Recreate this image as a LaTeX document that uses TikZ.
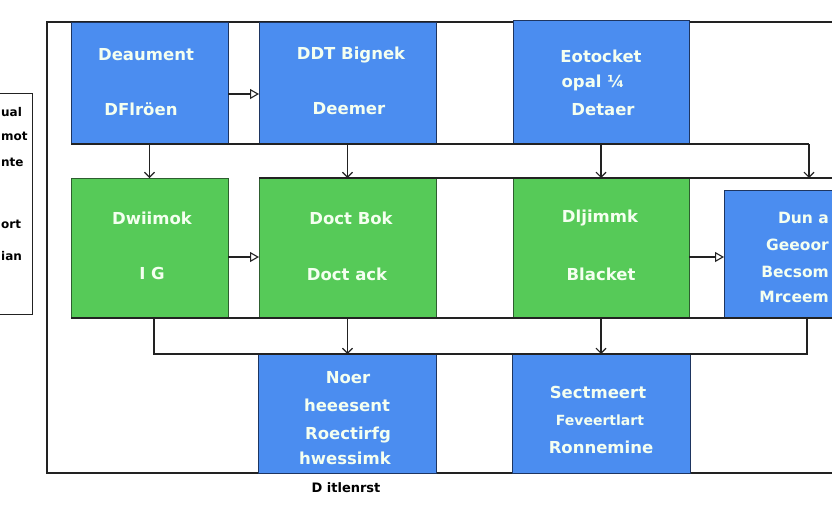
\documentclass[tikz,border=0pt]{standalone}
\usepackage{fontspec}
\setmainfont{DejaVu Sans}
\usetikzlibrary{arrows.meta}
\definecolor{bluebox}{HTML}{4B8DF0}
\definecolor{blueedge}{HTML}{1E3560}
\definecolor{greenbox}{HTML}{56CA58}
\definecolor{greenedge}{HTML}{2E5E30}
\definecolor{txtc}{HTML}{F4FFF0}
\definecolor{linec}{HTML}{222222}
\begin{document}
\begin{tikzpicture}[x=1pt,y=-1pt,
  boxb/.style={draw=blueedge, fill=bluebox, line width=0.9pt, inner sep=0pt, outer sep=0pt},
  boxg/.style={draw=greenedge, fill=greenbox, line width=0.9pt, inner sep=0pt, outer sep=0pt},
  wt/.style={text=txtc, font=\fontsize{16.5}{19}\selectfont\bfseries, inner sep=0pt},
  wtr/.style={text=txtc, font=\fontsize{15.5}{18}\selectfont\bfseries, inner sep=0pt, anchor=east},
  wts/.style={text=txtc, font=\fontsize{14}{16}\selectfont\bfseries, inner sep=0pt},
  lt/.style={text=black, font=\fontsize{12}{14}\selectfont\bfseries, inner sep=0pt, anchor=west},
  ln/.style={draw=linec, line width=1.1pt},
  harr/.style={ln, -{Triangle[open, length=9pt, width=10pt]}},
  varr/.style={ln, -{Straight Barb[length=5pt, width=10pt]}},
]
\useasboundingbox (0,0) rectangle (832,512);
\fill[white] (0,0) rectangle (832,512);

% frame
\coordinate (f1) at (832,22);
\coordinate (f2) at (47,22);
\coordinate (f3) at (47,473);
\coordinate (f4) at (832,473);
\draw[ln] (f1) -- (f2) -- (f3) -- (f4);

% legend box (cut at left edge)
\node[draw=linec, line width=1pt, minimum width=37pt, minimum height=221pt, inner sep=0pt] (L) at (13.5,203.5) {};
\node[lt] (l1) at (1,112) {ual};
\node[lt] (l2) at (1,136) {mot};
\node[lt] (l3) at (1,162) {nte};
\node[lt] (l4) at (1,224) {ort};
\node[lt] (l5) at (1,256) {ian};

% bus coordinates
\coordinate (k1) at (809,144);
\coordinate (k2) at (809,178);
\coordinate (e1) at (832,178);
\coordinate (e2) at (832,318);
\coordinate (m1) at (154,354);
\coordinate (m2) at (807,354);
\coordinate (r1) at (0,94);
\coordinate (r2) at (0,257);

% boxes row 1
\node[boxb, minimum width=157pt, minimum height=122pt] (B1) at (149.5,83) {};
\node[boxb, minimum width=177pt, minimum height=122pt] (B2) at (347.5,83) {};
\node[boxb, minimum width=176pt, minimum height=124pt] (B3) at (601,82) {};
% row 2
\node[boxg, minimum width=157pt, minimum height=140pt] (G1) at (149.5,248) {};
\node[boxg, minimum width=177pt, minimum height=140pt] (G2) at (347.5,248) {};
\node[boxg, minimum width=176pt, minimum height=140pt] (G3) at (601,248) {};
\node[boxb, minimum width=176pt, minimum height=128pt] (B4) at (812,254) {};
% row 3
\node[boxb, minimum width=178pt, minimum height=119pt] (B5) at (347.5,413.5) {};
\node[boxb, minimum width=178pt, minimum height=119pt] (B6) at (601,413.5) {};

% bus lines
\draw[ln] (B1.south west) -- (k1);
\draw[varr] (k1) -- (k2);
\draw[ln] (G2.north west) -- (e1);
\draw[ln] (G1.south west) -- (e2);
\draw[ln] (G1.south -| m1) -- (m1) -- (m2) -- (B4.south -| m2);

% arrows
\draw[harr] (B1.east |- r1) -- (B2.west |- r1);
\draw[harr] (G1.east |- r2) -- (G2.west |- r2);
\draw[harr] (G3.east |- r2) -- (B4.west |- r2);
\draw[varr] (B1.south) -- (G1.north);
\draw[varr] (B2.south) -- (G2.north);
\draw[varr] (B3.south) -- (G3.north);
\draw[varr] (G2.south) -- (B5.north);
\draw[varr] (G3.south) -- (B6.north);

% texts
\node[wt] (t1) at (146,55) {Deaument};
\node[wt] (t2) at (141,109) {DFlröen};
\node[wt] (t3) at (351,55) {DDT Bignek};
\node[wt] (t4) at (349,109) {Deemer};
\node[wt] (t5) at (601,56) {Eotocket};
\node[wt] (t6) at (593,83) {opal ¼};
\node[wt] (t7) at (603,110) {Detaer};
\node[wt] (t8) at (152,218) {Dwiimok};
\node[wt] (t9) at (152,273) {I G};
\node[wt] (t10) at (351,218) {Doct Bok};
\node[wt] (t11) at (347,274) {Doct ack};
\node[wt] (t12) at (600,218) {Dljimmk};
\node[wt] (t13) at (601,274) {Blacket};
\node[wtr] (t14) at (829,218) {Dun a};
\node[wtr] (t15) at (829,245) {Geeoor};
\node[wtr] (t16) at (829,272) {Becsom};
\node[wtr] (t17) at (829,297) {Mrceem};
\node[wt] (t18) at (348,378) {Noer};
\node[wt] (t19) at (347,405) {heeesent};
\node[wt] (t20) at (348,435) {Roectirfg};
\node[wt] (t21) at (345,458) {hwessimk};
\node[wt] (t22) at (598,392) {Sectmeert};
\node[wts] (t23) at (600,420) {Feveertlart};
\node[wt] (t24) at (601,447) {Ronnemine};
\node[text=black, font=\fontsize{13}{15}\selectfont\bfseries, inner sep=0pt] (cap) at (346,488) {D itlenrst};
\end{tikzpicture}
\end{document}
